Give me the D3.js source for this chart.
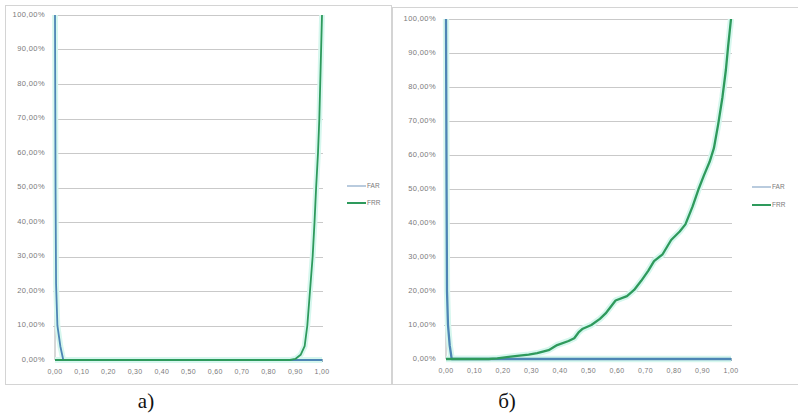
<!DOCTYPE html>
<html>
<head>
<meta charset="utf-8">
<script src="https://cdn.jsdelivr.net/npm/d3@7"></script>
<style>
  html, body { margin: 0; padding: 0; background: #fff; }
  svg { display: block; }
</style>
</head>
<body>
<svg id="chart" width="798" height="414"></svg>
<script>
// tick values (threshold 0..1, error rate in %)
const xTicks = [0, 0.1, 0.2, 0.3, 0.4, 0.5, 0.6, 0.7, 0.8, 0.9, 1.0]
const yTicks = [0, 10, 20, 30, 40, 50, 60, 70, 80, 90, 100]
const seriesNames = ["FAR", "FRR"]
const captions = ["а)", "б)"]

// panel a)
const farAX = [0, 0.002, 0.004, 0.009, 0.02, 0.031, 1.0]
const farAY = [100, 50, 22, 10, 4, 0, 0]
const frrAX = [0, 0.88, 0.9, 0.92, 0.935, 0.945, 0.955, 0.965, 0.972, 0.978, 0.985, 0.99, 0.995, 1.0]
const frrAY = [0, 0, 0.3, 1.5, 4, 10, 20, 30, 40, 50, 60, 70, 85, 100]

// panel б)
const farBX = [0, 0.002, 0.0035, 0.007, 0.013, 0.02, 1.0]
const farBY = [100, 50, 20, 10, 4, 0, 0]
const frrBX = [0, 0.15, 0.18, 0.22, 0.25, 0.29, 0.32, 0.36, 0.39, 0.43, 0.45, 0.465, 0.48, 0.51, 0.54, 0.56,
  0.595, 0.635, 0.66, 0.685, 0.71, 0.73, 0.76, 0.79, 0.82, 0.84, 0.865, 0.885, 0.905, 0.925,
  0.94, 0.955, 0.97, 0.982, 0.99, 1.0]
const frrBY = [0, 0, 0.2, 0.6, 0.9, 1.3, 1.7, 2.6, 4.1, 5.3, 6.1, 7.8, 8.9, 10, 11.8, 13.4,
  17.2, 18.5, 20.3, 23, 26, 28.8, 30.8, 35, 37.5, 39.6, 44.8, 49.7, 54, 58,
  62, 69, 77, 85, 92, 100]

const colors = ["#4d85b5", "#2e9a5c"]
const fmtX = v => d3.format(".2f")(v).replace(".", ",")
const fmtY = v => d3.format(".2f")(v).replace(".", ",") + "%"

const svg = d3.select("#chart")

// panel frames
svg.append("rect").attr("x", 5.5).attr("y", 5.5).attr("width", 386).attr("height", 379)
  .attr("fill", "none").attr("stroke", "#d4d4d4")
svg.append("rect").attr("x", 392.5).attr("y", 7.5).attr("width", 410).attr("height", 377)
  .attr("fill", "none").attr("stroke", "#d4d4d4")

function drawPanel(p) {
  const x = d3.scaleLinear().domain([0, 1]).range([p.x0, p.x1])
  const y = d3.scaleLinear().domain([0, 100]).range([p.y0, p.y1])
  const g = svg.append("g")

  // gridlines
  g.selectAll("line.grid").data(yTicks.filter(v => v > 0)).enter().append("line")
    .attr("x1", p.x0 - 2).attr("x2", p.x1 + 1)
    .attr("y1", d => Math.round(y(d)) + 0.5).attr("y2", d => Math.round(y(d)) + 0.5)
    .attr("stroke", "#c9c9c9").attr("stroke-width", 1)

  // y labels
  g.selectAll("text.yl").data(yTicks).enter().append("text")
    .attr("x", p.x0 - 10).attr("y", d => y(d))
    .attr("text-anchor", "end").attr("dominant-baseline", "middle")
    .attr("font-family", "Liberation Sans, Arial, sans-serif").attr("font-size", 7.5)
    .attr("letter-spacing", 0.4).attr("fill", "#7a7a7a")
    .text(fmtY)

  // x axis with small ticks
  const axis = d3.axisBottom(x).tickValues(d3.range(0, 1.001, 0.05)).tickSize(3).tickFormat("")
  g.append("g").attr("transform", `translate(0,${p.y0 - 1})`).call(axis)
    .call(a => a.selectAll("line,path").attr("stroke", "#8fb0c0"))
  g.append("line").attr("x1", p.x0).attr("x2", p.x0).attr("y1", p.y1).attr("y2", p.y0)
    .attr("stroke", "#b0b0b0")

  g.selectAll("text.xl").data(xTicks).enter().append("text")
    .attr("x", d => x(d)).attr("y", p.y0 + 14)
    .attr("text-anchor", "middle")
    .attr("font-family", "Liberation Sans, Arial, sans-serif").attr("font-size", 7)
    .attr("letter-spacing", 0.3).attr("fill", "#7a7a7a")
    .text(fmtX)

  const line = d3.line().x(d => x(d[0])).y(d => y(d[1]))
  p.series.forEach((s, i) => {
    const pts = d3.zip(s[0], s[1])
    g.append("path").attr("d", line(pts)).attr("fill", "none")
      .attr("stroke", "#d6f7ee").attr("stroke-width", p.lw + 4).attr("stroke-linejoin", "round")
  })
  p.series.forEach((s, i) => {
    const pts = d3.zip(s[0], s[1])
    g.append("path").attr("d", line(pts)).attr("fill", "none")
      .attr("stroke", colors[i]).attr("stroke-width", p.lw).attr("stroke-linejoin", "round")
  })

  // legend
  seriesNames.forEach((name, i) => {
    const ly = p.legY + i * p.legGap
    g.append("line").attr("x1", p.legX).attr("x2", p.legX + 19).attr("y1", ly).attr("y2", ly)
      .attr("stroke", i === 0 ? "#8aa8c8" : colors[i]).attr("stroke-width", i === 0 ? 1.2 : 2)
    g.append("text").attr("x", p.legX + 20).attr("y", ly)
      .attr("dominant-baseline", "middle")
      .attr("font-family", "Liberation Sans, Arial, sans-serif").attr("font-size", 6.5)
      .attr("fill", "#7a7a7a").text(name)
  })

  // caption
  svg.append("text").attr("x", p.capX).attr("y", 408).attr("text-anchor", "middle")
    .attr("font-family", "Liberation Serif, Times New Roman, serif").attr("font-size", 21)
    .attr("fill", "#111").text(p.caption)
}

drawPanel({
  x0: 55, x1: 322, y0: 360, y1: 15, lw: 1.8,
  series: [[farAX, farAY], [frrAX, frrAY]],
  legX: 347, legY: 186, legGap: 17, capX: 146, caption: captions[0]
})
drawPanel({
  x0: 446, x1: 731, y0: 359, y1: 19, lw: 2.3,
  series: [[farBX, farBY], [frrBX, frrBY]],
  legX: 752, legY: 187, legGap: 18, capX: 507, caption: captions[1]
})
</script>
</body>
</html>
